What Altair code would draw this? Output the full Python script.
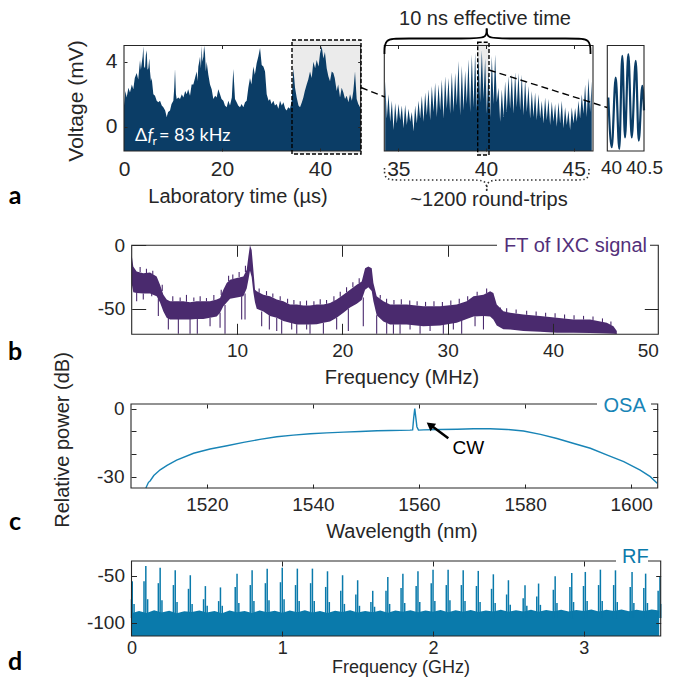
import altair as alt
import pandas as pd

W, H, M = 657, 669, 8
FONT = "Liberation Sans"
LATO = "Lato"
AX = "#262626"
BLUE_A = "#0b3d66"
PURPLE = "#4a2a6e"
OSA_C = "#1884b6"
RF_C = "#0a7aab"
GREY = "#ebebeb"

# ---------------- data ----------------
# (a) left: laboratory time (us) and voltage envelope (mV)
a1_time = [0.0, 0.3, 0.54, 0.9, 1.22, 1.6, 1.9, 2.2, 2.59, 2.9,
           3.27, 3.45, 3.61, 3.8, 3.95, 4.1, 4.29, 4.45, 4.63, 4.8,
           4.97, 5.15, 5.31, 5.5, 5.65, 5.99, 6.33, 6.67, 7.0, 7.35,
           7.7, 8.03, 8.4, 8.71, 9.0, 9.39, 9.7, 10.07, 10.25, 10.41,
           10.6, 10.75, 11.1, 11.43, 11.8, 12.11, 12.5, 12.79, 13.1, 13.47,
           13.8, 14.15, 14.49, 14.83, 15.0, 15.17, 15.35, 15.51, 15.7, 15.85,
           16.0, 16.19, 16.35, 16.53, 16.7, 16.87, 17.21, 17.55, 17.89, 18.23,
           18.6, 18.91, 19.25, 19.59, 19.9, 20.27, 20.6, 20.95, 21.3, 21.63,
           22.0, 22.31, 22.65, 22.99, 23.3, 23.67, 24.0, 24.35, 24.7, 25.03,
           25.37, 25.71, 26.0, 26.39, 26.7, 27.07, 27.4, 27.76, 28.1, 28.44,
           28.78, 29.12, 29.5, 29.8, 30.1, 30.48, 30.8, 31.16, 31.5, 31.84,
           32.2, 32.52, 32.9, 33.2, 33.5, 33.88, 34.22, 34.56, 34.9, 35.24,
           35.6, 35.92, 36.3, 36.6, 36.9, 37.28, 37.6, 37.96, 38.3, 38.64,
           39.0, 39.32, 39.7, 40.0, 40.34, 40.68, 41.0, 41.36, 41.7, 42.04,
           42.38, 42.72, 43.0, 43.4, 43.7, 44.08, 44.42, 44.76, 45.1, 45.44,
           45.8, 46.12, 46.5, 46.8, 47.14, 47.48, 47.8, 48.16, 48.3]
a1_volt = [1.3, 2.2, 1.8, 2.4, 2.1, 2.6, 2.3, 3.0, 3.3, 2.9,
           4.1, 3.5, 3.9, 4.3, 4.95, 3.7, 3.6, 4.4, 4.7, 3.5,
           3.6, 4.2, 3.4, 2.8, 3.0, 2.0, 1.9, 1.6, 1.5, 1.6,
           1.3, 1.2, 1.0, 0.6, 0.9, 1.0, 1.4, 1.6, 2.4, 3.55,
           2.0, 1.7, 1.8, 1.7, 2.0, 1.8, 2.2, 2.0, 2.3, 1.9,
           2.6, 2.6, 3.0, 3.4, 2.8, 3.7, 4.0, 4.3, 3.6, 4.98,
           4.0, 4.3, 4.98, 4.5, 3.4, 4.0, 3.2, 2.6, 2.3, 1.7,
           1.9, 1.8, 2.3, 2.0, 1.7, 1.6, 1.3, 1.2, 1.6, 1.3,
           1.8, 3.55, 1.7, 1.5, 1.3, 1.2, 1.4, 1.2, 1.5, 1.6,
           2.4, 3.0, 2.6, 3.7, 3.2, 3.9, 4.3, 4.85, 3.8, 3.7,
           3.4, 2.0, 1.6, 1.7, 1.4, 1.6, 1.3, 1.4, 1.1, 1.6,
           1.3, 1.5, 1.1, 1.0, 1.2, 1.1, 1.6, 3.6, 2.4, 1.8,
           1.3, 1.2, 1.5, 1.8, 2.2, 2.6, 2.9, 3.4, 3.0, 4.0,
           3.6, 4.1, 3.7, 4.5, 4.95, 4.2, 4.6, 3.6, 3.1, 2.8,
           3.4, 3.3, 3.0, 2.2, 2.6, 1.8, 2.4, 2.1, 1.7, 1.9,
           1.5, 2.0, 1.6, 2.2, 3.4, 1.7, 1.4, 1.2, 1.2]

# (a) middle: oscillation peaks and troughs (mV), sampled every a2_dt us
a2_t0, a2_dt = 34.25, 0.19
a2_peak = [2.8, 2.0, 1.6, 1.45, 1.4, 1.3, 1.35, 1.1, 0.9, 1.3,
           1.6, 1.9, 2.1, 2.3, 2.5, 2.7, 2.6, 2.9, 3.1, 3.0,
           3.35, 3.3, 4.05, 3.75, 3.45, 4.15, 4.45, 4.55, 4.35, 4.7,
           4.2, 3.5, 4.35, 4.45, 2.4, 2.3, 2.8, 3.1, 3.25, 3.35,
           3.3, 3.2, 2.9, 2.5, 2.2, 2.1, 2.0, 1.6, 1.8, 1.7,
           1.55, 1.4, 1.5, 1.6, 1.2, 1.0, 1.2, 1.15, 1.6, 2.0,
           2.6, 3.0, 2.8]
a2_trough = [0.5, 0.3, -0.2, 0.2, 0.4, -0.1, 0.1, 0.3, -0.3, 0.2,
             0.5, 0.3, 0.7, 0.4, 0.9, 0.6, 1.0, 0.5, 1.1, 0.8,
             0.9, 1.3, 0.7, 1.0, 1.4, 0.9, 1.2, 1.0, 1.5, 1.7,
             0.8, 0.6, 1.4, 1.5, 0.3, 0.6, 0.9, 1.1, 0.8, 1.2,
             1.0, 0.7, 0.9, 0.5, 0.6, 0.4, 0.5, 0.2, 0.4, 0.1,
             0.3, 0.0, 0.2, -0.1, 0.1, -0.2, 0.2, 0.3, 0.5, 0.8,
             0.6, 0.9]

# (a) right: single oscillation detail
a3_time = [39.961, 40.010, 40.067, 40.118, 40.161, 40.200, 40.247, 40.296, 40.353, 40.396, 40.447, 40.471]
a3_volt = [1.80, -1.27, 3.03, -1.37, 4.37, -0.66, 4.47, -0.66, 4.06, -0.86, 2.52, 1.0]

# (b) FT of IXC signal: upper / lower noise envelope (dB)
b_freq = [0.0, 0.15, 0.47, 1.10, 1.74, 2.37, 2.69, 3.01, 3.32, 3.64,
          4.27, 4.90, 5.54, 6.17, 6.80, 7.44, 8.07, 8.39, 8.70, 9.02,
          9.34, 9.97, 10.60, 10.92, 11.08, 11.23, 11.39, 11.55, 11.71, 11.87,
          12.50, 13.13, 13.77, 14.40, 15.03, 15.67, 16.30, 16.93, 17.57, 18.20,
          18.83, 19.46, 20.10, 20.73, 21.37, 21.84, 22.16, 22.47, 22.79, 22.95,
          23.26, 23.90, 24.53, 26.11, 27.70, 29.28, 30.86, 31.81, 32.45, 33.40,
          34.03, 34.34, 34.66, 35.29, 35.93, 37.19, 38.78, 40.36, 41.94, 43.53,
          45.11, 45.74, 46.06]
b_hi = [-7.6, -16.7, -20.6, -21.9, -21.4, -24.5, -31.0, -38.8, -42.7, -44.0,
        -44.0, -44.0, -44.8, -44.0, -44.0, -44.0, -42.7, -41.4, -34.9, -29.7,
        -27.1, -25.8, -24.5, -19.3, -8.9, 0.0, -3.7, -19.3, -34.9, -36.2,
        -38.8, -40.1, -42.7, -44.0, -46.6, -46.6, -47.4, -47.4, -46.6, -46.6,
        -45.3, -42.7, -38.8, -34.9, -31.0, -28.4, -18.0, -16.7, -18.0, -29.7,
        -40.1, -44.0, -46.6, -46.6, -47.9, -47.9, -46.6, -44.0, -40.1, -38.8,
        -36.2, -37.5, -46.6, -51.8, -53.1, -54.4, -55.7, -57.0, -58.4, -58.4,
        -61.0, -63.6, -67.5]
b_lo = [-30, -37, -37.5, -38, -38, -40, -45, -52, -57, -58.4,
        -58.4, -58.4, -58.4, -58, -58, -57, -56, -53, -48, -45,
        -42, -41, -40, -34, -27, -20, -25, -37, -45, -50,
        -52, -55.7, -57, -59.6, -61, -62.3, -62.3, -62.3, -62, -61,
        -60, -57, -53, -49, -46, -43, -35, -33, -36, -44,
        -55, -60, -62.3, -62.3, -63.6, -63, -61, -58, -56, -55.7,
        -56, -58.4, -63, -66, -66.2, -67.5, -68, -68.8, -68.8, -69,
        -69.3, -69.5, -69.8]
# (b) downward noise spikes
b_spk_f = [0.47, 1.10, 1.90, 2.53, 3.48, 4.43, 5.54, 6.23, 7.44, 8.39,
           8.86, 10.44, 10.76, 12.34, 13.07, 13.77, 14.24, 15.19, 15.67, 16.61,
           16.93, 18.20, 19.46, 20.57, 21.99, 23.26, 24.21, 24.85, 25.48, 26.43,
           27.38, 28.33, 29.59, 30.54, 31.33, 32.6, 33.4]
b_spk_top = [-37.5, -38, -38, -42, -57, -58, -58, -58, -57, -53,
             -47, -40, -38, -52, -55, -57, -59, -61, -62, -62,
             -62, -61, -57, -50, -41, -55, -61, -62, -62, -62,
             -63, -63, -62, -61, -58, -56, -55]
b_spk_bot = [-44, -42.7, -40.1, -55.7, -66.2, -69.6, -69.6, -69.6, -63.6, -64.9,
             -69.6, -58.4, -58.4, -63.6, -66.2, -67.5, -69.6, -66.2, -69.6, -66.2,
             -69.6, -69.6, -66.2, -67.5, -63.6, -69.6, -69.6, -69.6, -69.6, -66.2,
             -69.6, -67.5, -69.6, -66.2, -69.6, -63.6, -66.2]
# (b) upward noise spikes
b_up_f = [0.8, 1.4, 2.0, 2.9, 3.9, 4.6, 5.2, 5.9, 6.5, 7.1,
          7.8, 8.5, 9.2, 9.6, 10.2, 10.8, 12.1, 12.8, 13.4, 14.1,
          14.8, 15.4, 16.0, 16.6, 17.3, 17.9, 18.5, 19.2, 19.8, 20.4,
          21.0, 21.6, 23.6, 24.2, 24.9, 25.6, 26.4, 27.1, 27.9, 28.7,
          29.5, 30.3, 31.1, 31.9, 32.8, 33.7, 35.0, 35.6, 36.5, 37.5,
          38.4, 39.3, 40.2, 41.1, 42.0, 42.9, 43.8, 44.7, 45.5]
b_up_top = [-17, -18.5, -20, -31, -40, -41, -39, -41, -40, -41.5,
            -39, -35, -24, -23, -21, -16, -34, -36, -38, -40,
            -42, -43, -44, -43.5, -44, -42.5, -43, -40, -36.5, -33,
            -29, -26, -39, -42, -43, -42.5, -43.5, -44, -44.5, -44,
            -44.5, -43.5, -42, -40, -36.5, -34, -49, -49.5, -50.5, -51.5,
            -52, -53, -53.5, -54.5, -55, -55.5, -56, -57.5, -60]
b_up_base = [-21, -22, -23, -36, -44, -44, -44.4, -44, -44, -44,
             -43.3, -39, -28, -26.5, -25, -21, -37.3, -39.4, -41, -43.4,
             -45.6, -46.6, -47, -47.4, -47, -46.6, -46, -43.8, -40.5, -37,
             -33, -29.7, -42, -45.3, -46.6, -46.6, -46.9, -47.4, -47.9, -47.9,
             -47.7, -47, -45.9, -43.7, -39.6, -37.5, -52.4, -52.5, -53.7, -54.6,
             -55.4, -56.1, -56.9, -57.7, -58.4, -58.4, -58.9, -60.3, -62.6]

# (c) OSA spectrum
c_wl = [1508.5, 1509.0, 1509.3, 1510.0, 1511.2, 1512.5, 1514.3, 1517.5, 1520.6, 1523.8,
        1526.9, 1530.0, 1533.2, 1536.3, 1539.5, 1542.6, 1545.8, 1548.9, 1552.1, 1554.6,
        1558.3, 1558.8, 1559.0, 1559.2, 1559.4, 1559.6, 1559.9, 1560.9, 1564.0, 1567.2,
        1570.3, 1573.4, 1576.6, 1579.7, 1582.9, 1586.0, 1589.2, 1592.3, 1595.5, 1598.6,
        1601.7, 1603.6, 1604.9]
c_db = [-35, -32.5, -31.9, -29.5, -27, -25, -22.7, -19.7, -17.8, -16.4,
        -14.9, -13.6, -12.4, -11.7, -11.1, -10.7, -10.4, -10.1, -9.8, -9.7,
        -9.5, -9.4, -4, 0, -4, -8, -9.5, -9.4, -9.2, -9.1,
        -8.9, -8.9, -9.2, -9.9, -11.4, -13.2, -15.4, -17.5, -20.5, -23.4,
        -27.1, -30, -32.9]

# (d) RF spectrum: noise floor every d_df GHz, comb lines
d_f0, d_df = 0.0, 0.05
d_floor = [-90, -87.5, -89.5, -86.8, -89, -87.2, -90, -87.8, -88.6, -86.9,
           -89.2, -87.4, -89.8, -87, -88.9, -87.6, -89.5, -86.9, -88.8, -87.3,
           -89.4, -87.1, -88.7, -86.8, -89.1, -87.5, -89.6, -87.2, -88.5, -86.7,
           -89, -87.4, -88.8, -86.9, -89.3, -87.1, -88.4, -86.6, -88.9, -87,
           -88.2, -86.5, -88.7, -86.8, -88.3, -86.4, -88.6, -86.9, -88.1, -86.3,
           -88.4, -86.7, -87.9, -86.2, -88.2, -86.5, -87.8, -86.1, -88, -86.4,
           -87.6, -86, -87.9, -86.3, -87.5, -85.9, -87.7, -86.2, -87.4, -85.8,
           -87]
d_main_f = [0.005, 0.095, 0.19, 0.29, 0.39, 0.49, 0.59, 0.70, 0.80, 0.90,
            1.00, 1.10, 1.20, 1.30, 1.40, 1.50, 1.60, 1.70, 1.80, 1.90,
            2.00, 2.10, 2.20, 2.30, 2.40, 2.50, 2.61, 2.70, 2.81, 2.92,
            3.01, 3.11, 3.21, 3.32, 3.41, 3.505]
d_main_db = [-56, -39.8, -41.6, -44.4, -49.6, -61.1, -62.5, -47.9, -44.4, -42.6,
             -41.6, -42.6, -42.6, -45.4, -49.6, -54.9, -66.1, -51.4, -47.9, -45.4,
             -43.7, -43.7, -44.4, -45.0, -48.6, -54.9, -60.1, -58.4, -50.7, -47.2,
             -46.1, -43.7, -44.4, -46.1, -47.9, -51.4]
d_side_gap = 0.012
d_left_db = [-75, -56, -58, -60, -64, -75, -77, -62, -60, -58,
             -57, -60, -58, -62, -66, -70, -78, -66, -63, -61,
             -58, -60, -60, -61, -64, -70, -74, -72, -65, -62,
             -61, -60, -60, -62, -63, -66]
d_right_db = [-80, -75, -76, -78, -80, -82, -82, -79, -77, -76,
              -75, -77, -77, -78, -80, -82, -83, -80, -79, -78,
              -77, -76, -77, -78, -79, -81, -82, -81, -79, -78,
              -77, -77, -78, -79, -79, -80]

# ---------------- layout (page pixels) ----------------
P = {
    'a1': dict(x0=124.0, x1=360.7, y0=45.5, y1=151.0, xd=[0, 48.3], yd=[-1.5, 5.0]),
    'a2': dict(x0=384.3, x1=593.0, y0=45.5, y1=151.0, xd=[34.2, 46.1], yd=[-1.5, 5.0]),
    'a3': dict(x0=607.3, x1=644.0, y0=45.5, y1=151.0, xd=[39.947, 40.471], yd=[-1.5, 5.0]),
    'b': dict(x0=131.7, x1=658.3, y0=245.3, y1=334.3, xd=[0, 50], yd=[-70, 0]),
    'c': dict(x0=131.0, x1=657.7, y0=404.0, y1=488.0, xd=[1505.7, 1605.0], yd=[-35, 2]),
    'd': dict(x0=131.5, x1=660.7, y0=561.0, y1=636.0, xd=[0, 3.51], yd=[-114, -34.5]),
}


def xs(p):
    q = P[p]
    return alt.Scale(domain=q['xd'], range=[q['x0'] - M, q['x1'] - M], nice=False, zero=False, clamp=True)


def ys(p):
    q = P[p]
    return alt.Scale(domain=q['yd'], range=[q['y1'] - M, q['y0'] - M], nice=False, zero=False, clamp=True)


PX = alt.Scale(domain=[M, W + M], range=[0, W], nice=False, zero=False)
PY = alt.Scale(domain=[M, H + M], range=[0, H], nice=False, zero=False)


def xlab(p, vals, size, flush=False, pad=7):
    q = P[p]
    return alt.Axis(orient='bottom', offset=(q['y1'] - M) - H, values=vals, ticks=False, domain=False,
                    grid=False, title=None, labelFont=FONT, labelFontSize=size, labelColor=AX,
                    labelPadding=pad, labelFlush=flush, labelOverlap=False,
                    labelExpr='toString(datum.value)', zindex=1)


def ylab(p, vals, size):
    q = P[p]
    return alt.Axis(orient='left', offset=-(q['x0'] - M), values=vals, ticks=False, domain=False,
                    grid=False, title=None, labelFont=FONT, labelFontSize=size, labelColor=AX,
                    labelPadding=7, labelFlush=False, labelOverlap=False,
                    labelExpr='toString(datum.value)', zindex=1)


def tax(orient, offset, vals, size):
    if not vals:
        return None
    return alt.Axis(orient=orient, offset=offset, values=vals, labels=False, domain=False, grid=False,
                    ticks=True, tickSize=size, tickColor=AX, tickWidth=1, title=None, zindex=1)


def tick_layers(p, xb, xt, yl, yr, xlen, ylen):
    q = P[p]
    dummy = pd.DataFrame({'x': [q['xd'][0]], 'y': [q['yd'][0]]})
    l2 = alt.Chart(dummy).mark_point(opacity=0).encode(
        x=alt.X('x:Q', scale=xs(p), axis=tax('top', -(q['y1'] - M), xb, xlen)),
        y=alt.Y('y:Q', scale=ys(p), axis=tax('right', (q['x0'] - M) - W, yl, ylen)))
    l3 = alt.Chart(dummy).mark_point(opacity=0).encode(
        x=alt.X('x:Q', scale=xs(p), axis=tax('bottom', (q['y0'] - M) - H, xt, xlen)),
        y=alt.Y('y:Q', scale=ys(p), axis=tax('left', -(q['x1'] - M), yr, ylen)))
    return [l2, l3]


def ov(df, mtype, mk, **enc):
    e = dict(x=alt.X('x:Q', scale=PX, axis=None), y=alt.Y('y:Q', scale=PY, axis=None))
    if 'x2' in df.columns:
        e['x2'] = alt.X2('x2:Q')
    if 'y2' in df.columns:
        e['y2'] = alt.Y2('y2:Q')
    e.update(enc)
    return getattr(alt.Chart(df), 'mark_' + mtype)(**mk).encode(**e)


def text(items, **mk):
    df = pd.DataFrame(items, columns=['x', 'y', 't'])
    return ov(df, 'text', mk, text='t:N')


layers = []

# zoom boxes (grey fills under data)
zoom_x0, zoom_x1 = [292.0, 477.7], [361.0, 489.0]
zoom_y0, zoom_y1 = [40.0, 42.3], [154.0, 155.0]
zdf = pd.DataFrame({'x': zoom_x0, 'x2': zoom_x1, 'y': zoom_y0, 'y2': zoom_y1})
layers.append(ov(zdf, 'rect', dict(color=GREY)))

# ---- panel a1
a1 = pd.DataFrame({'t': a1_time, 'v': a1_volt, 'lo': P['a1']['yd'][0]})
layers.append(alt.Chart(a1).mark_area(color=BLUE_A).encode(
    x=alt.X('t:Q', scale=xs('a1'), axis=xlab('a1', [0, 20, 40], 21)),
    y=alt.Y('v:Q', scale=ys('a1'), axis=ylab('a1', [0, 4], 21)),
    y2='lo:Q'))
layers += tick_layers('a1', [20, 40], [20, 40], [0, 4], [0, 4], 3, 3)

# ---- panel a2
rows = []
for k, v in enumerate(a2_peak):
    rows.append((a2_t0 + k * a2_dt, v))
    if k < len(a2_trough):
        rows.append((a2_t0 + (k + 0.5) * a2_dt, a2_trough[k]))
a2 = pd.DataFrame(rows, columns=['t', 'v'])
a2['lo'] = P['a2']['yd'][0]
layers.append(alt.Chart(a2).mark_area(color=BLUE_A).encode(
    x=alt.X('t:Q', scale=xs('a2'), axis=xlab('a2', [35, 40, 45], 21)),
    y=alt.Y('v:Q', scale=ys('a2'), axis=None),
    y2='lo:Q'))
layers += tick_layers('a2', [35, 40, 45], [35, 40, 45], [], [], 3, 3)

# ---- panel a3
a3 = pd.DataFrame({'t': a3_time, 'v': a3_volt})
layers.append(alt.Chart(a3).mark_line(color=BLUE_A, strokeWidth=2.2, interpolate='monotone').encode(
    x=alt.X('t:Q', scale=xs('a3'), axis=xlab('a3', [40, 40.5], 19)),
    y=alt.Y('v:Q', scale=ys('a3'), axis=None)))

# ---- panel b
bdf = pd.DataFrame({'f': b_freq, 'hi': b_hi, 'lo': b_lo})
layers.append(alt.Chart(bdf).mark_area(color=PURPLE).encode(
    x=alt.X('f:Q', scale=xs('b'), axis=xlab('b', [10, 20, 30, 40, 50], 19, flush=True)),
    y=alt.Y('hi:Q', scale=ys('b'), axis=ylab('b', [0, -50], 19)),
    y2='lo:Q'))
bsp = pd.DataFrame({'f': b_spk_f + b_up_f, 'top': b_spk_top + b_up_top, 'bot': b_spk_bot + b_up_base})
layers.append(alt.Chart(bsp).mark_rule(color=PURPLE, strokeWidth=1.1).encode(
    x=alt.X('f:Q', scale=xs('b'), axis=None),
    y=alt.Y('top:Q', scale=ys('b'), axis=None),
    y2='bot:Q'))
layers += tick_layers('b', [10, 20, 30, 40], [10, 20, 30], [0, -50], [-50], 11, 14)

# ---- panel c
cdf = pd.DataFrame({'w': c_wl, 'p': c_db})
layers.append(alt.Chart(cdf).mark_line(color=OSA_C, strokeWidth=1.4).encode(
    x=alt.X('w:Q', scale=xs('c'), axis=xlab('c', [1520, 1540, 1560, 1580, 1600], 19)),
    y=alt.Y('p:Q', scale=ys('c'), axis=ylab('c', [0, -30], 19))))
layers += tick_layers('c', [1520, 1540, 1560, 1580, 1600], [1520, 1540, 1560, 1580],
                      [0, -10, -20, -30], [0, -10, -20, -30], 4, 5)

# ---- panel d
ddf = pd.DataFrame({'f': [d_f0 + k * d_df for k in range(len(d_floor))], 'p': d_floor,
                    'lo': P['d']['yd'][0]})
layers.append(alt.Chart(ddf).mark_area(color=RF_C).encode(
    x=alt.X('f:Q', scale=xs('d'), axis=xlab('d', [0, 1, 2, 3], 18, pad=3)),
    y=alt.Y('p:Q', scale=ys('d'), axis=ylab('d', [-50, -100], 19)),
    y2='lo:Q'))
comb = pd.DataFrame({
    'f': d_main_f + [f - d_side_gap for f in d_main_f] + [f + d_side_gap for f in d_main_f],
    'p': d_main_db + d_left_db + d_right_db,
    'base': -95})
layers.append(alt.Chart(comb).mark_rule(color=RF_C, strokeWidth=1.5).encode(
    x=alt.X('f:Q', scale=xs('d'), axis=None),
    y=alt.Y('p:Q', scale=ys('d'), axis=None),
    y2='base:Q'))
layers += tick_layers('d', [1, 2, 3], [1, 2, 3], [-50, -100], [-50, -100], 5, 5)

# ---- frames
fdf = pd.DataFrame([{'x': q['x0'], 'x2': q['x1'], 'y': q['y0'], 'y2': q['y1']} for q in P.values()])
layers.append(ov(fdf, 'rect', dict(fillOpacity=0, stroke=AX, strokeWidth=1.1)))

# ---- dashed zoom boxes & connectors
layers.append(ov(zdf, 'rect', dict(fillOpacity=0, stroke='black', strokeWidth=1.4, strokeDash=[4, 2])))
conn = pd.DataFrame({'x': [361.0, 385.0, 489.0, 607.3], 'y': [87.5, 97.0, 70.0, 107.5],
                     'seg': ['c1', 'c1', 'c2', 'c2'], 'i': [0, 1, 2, 3]})
layers.append(ov(conn, 'line', dict(color='black', strokeWidth=1.4, strokeDash=[7, 4]),
                 detail='seg:N', order='i:Q'))

# ---- braces
brace_top = [(384.5, 54), (384.5, 38.5), (400, 38.5), (470, 38.5), (486.7, 38.5), (486.7, 28.5),
             (486.7, 28.5), (486.7, 38.5), (503, 38.5), (575, 38.5), (590.5, 38.5), (590.5, 54)]
brace_bot = [(384.5, 168), (384.5, 180), (398, 180), (472, 180), (486.7, 180), (486.7, 191),
             (486.7, 191), (486.7, 180), (502, 180), (576, 180), (589, 180), (589, 168)]


def brace_df(pts):
    return pd.DataFrame({'x': [p[0] for p in pts], 'y': [p[1] for p in pts],
                         'seg': ['L'] * 6 + ['R'] * 6, 'i': list(range(12))})


layers.append(ov(brace_df(brace_top), 'line', dict(color='black', strokeWidth=1.8, interpolate='basis'),
                 detail='seg:N', order='i:Q'))
layers.append(ov(brace_df(brace_bot), 'line',
                 dict(color='#333333', strokeWidth=1.6, interpolate='basis', strokeDash=[1.5, 2.5]),
                 detail='seg:N', order='i:Q'))

# ---- legend knockouts and legends
ko = pd.DataFrame({'x': [497.0, 597.0, 616.0], 'x2': [650.0, 651.0, 648.0],
                   'y': [238.0, 398.0, 551.0], 'y2': [253.0, 411.0, 566.0]})
layers.append(ov(ko, 'rect', dict(color='white')))
layers.append(text([(504, 246, 'FT of IXC signal')], font=FONT, fontSize=20, color='#53307a',
                   align='left', baseline='middle'))
layers.append(text([(603.5, 406, 'OSA')], font=FONT, fontSize=20, color=OSA_C, align='left', baseline='middle'))
layers.append(text([(622, 557, 'RF')], font=FONT, fontSize=20, color=RF_C, align='left', baseline='middle'))

# ---- CW arrow
shaft = pd.DataFrame({'x': [448.3, 430.5], 'y': [438.3, 425.0]})
layers.append(ov(shaft, 'line', dict(color='black', strokeWidth=2.5)))
head = pd.DataFrame({'x': [430.0], 'y': [425.0]})
layers.append(ov(head, 'point', dict(shape='triangle-up', angle=306.6, size=90, filled=True,
                                      color='black', opacity=1)))
layers.append(text([(468.3, 447.7, 'CW')], font=FONT, fontSize=19, color='black', align='center',
                   baseline='middle'))

# ---- axis titles and annotations
layers.append(text([(238, 196.5, 'Laboratory time (µs)'), (485, 18.5, '10 ns effective time'),
                    (489, 200, '~1200 round-trips'), (402, 378, 'Frequency (MHz)'),
                    (402, 532, 'Wavelength (nm)')],
                   font=FONT, fontSize=20, color=AX, align='center', baseline='middle'))
layers.append(text([(401, 667.5, 'Frequency (GHz)')],
                   font=FONT, fontSize=18, color=AX, align='center', baseline='middle'))
layers.append(text([(77, 101, 'Voltage (mV)')],
                   font=FONT, fontSize=21, color=AX, align='center', baseline='middle', angle=270))
layers.append(text([(63, 440, 'Relative power (dB)')],
                   font=FONT, fontSize=20, color=AX, align='center', baseline='middle', angle=270))

# delta f_r label
layers.append(text([(135, 141, 'Δ'), (159, 141, '= 83 kHz')], font=LATO, fontSize=18, color='white',
                   align='left', baseline='alphabetic'))
layers.append(text([(147.5, 141, 'f')], font=LATO, fontSize=18, fontStyle='italic', color='white',
                   align='left', baseline='alphabetic'))
layers.append(text([(152.5, 145, 'r')], font=LATO, fontSize=12, color='white', align='left',
                   baseline='alphabetic'))

# panel letters
layers.append(text([(15, 196, 'a'), (15, 352, 'b'), (15, 522, 'c'), (15, 662, 'd')],
                   font=LATO, fontSize=25, fontWeight='bold', color='black', align='center',
                   baseline='middle'))

chart = alt.layer(*layers).resolve_scale(x='independent', y='independent').properties(
    width=W, height=H, padding=0, autosize=alt.AutoSizeParams(type='none'), background='white'
).configure_view(stroke=None)

chart.save("out.html", embed_options={"renderer": "svg", "actions": False})
